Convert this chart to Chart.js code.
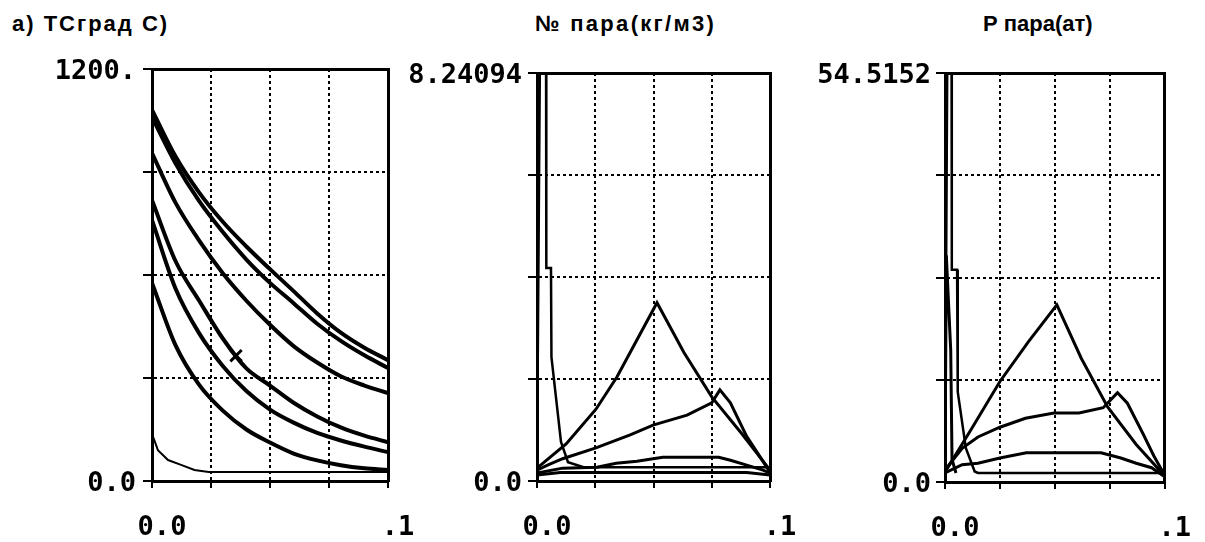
<!DOCTYPE html>
<html><head><meta charset="utf-8">
<script src="https://cdn.jsdelivr.net/npm/chart.js@4/dist/chart.umd.min.js"></script>
<style>
html,body{margin:0;padding:0;background:#fff;width:1205px;height:542px;overflow:hidden;position:relative}
canvas{position:absolute;top:0}
.ttl{position:absolute;font:bold 22px "Liberation Sans",Arial,sans-serif;color:#000;white-space:nowrap;line-height:22px}
</style></head><body>
<div class="ttl" style="left:12px;top:13px;letter-spacing:2px">а) ТСград С)</div>
<div class="ttl" style="left:535px;top:13px;letter-spacing:2.3px">№ пара(кг/м3)</div>
<div class="ttl" style="left:983px;top:13px">Р пара(ат)</div>
<canvas id="c1" width="440" height="542" style="left:0px"></canvas>
<canvas id="c2" width="420" height="542" style="left:400px"></canvas>
<canvas id="c3" width="400" height="542" style="left:805px"></canvas>
<script>
// ---------- Panel 1: temperature (°C) ----------
const tX = [0, 0.01, 0.02, 0.03, 0.04, 0.05, 0.06, 0.07, 0.08, 0.09, 0.1];
const tA = [1081, 945, 840, 755, 683, 617, 553, 488, 432, 388, 352];
const tB = [1060, 925, 815, 725, 645, 577, 518, 458, 408, 366, 329];
const tC = [955, 810, 700, 605, 525, 455, 393, 345, 305, 278, 256];
const tD = [818, 640, 525, 415, 328, 278, 228, 188, 156, 132, 113];
const tE = [760, 560, 430, 335, 262, 208, 170, 140, 118, 100, 84];
const tF = [577, 395, 280, 205, 150, 112, 80, 60, 46, 37, 32];
const gX = [0, 0.0005, 0.0025, 0.0068, 0.0123, 0.018, 0.024, 0.1];
const gY = [140, 128, 90, 61, 47, 32, 26, 26];
const markX = [0.0356];
const markY = [365];

// ---------- Panel 2: vapour density (kg/m3) ----------
const s2X = [0, 0.0012, 0.0039, 0.004, 0.006, 0.0062, 0.0103, 0.0133, 0.02, 0.1];
const s2Y = [0.3, 8.24094, 8.24094, 4.3, 4.3, 2.5, 0.79, 0.38, 0.28, 0.28];
const tr2X = [0, 0.0125, 0.0253, 0.0343, 0.0515, 0.063, 0.075, 0.088, 0.1];
const tr2Y = [0.26, 0.75, 1.45, 2.1, 3.6, 2.6, 1.7, 0.95, 0.22];
const q2X = [0, 0.005, 0.011, 0.0253, 0.04, 0.0498, 0.0644, 0.075, 0.0785, 0.083, 0.09, 0.1];
const q2Y = [0.22, 0.33, 0.45, 0.67, 0.93, 1.13, 1.33, 1.58, 1.84, 1.58, 0.9, 0.18];
const h2X = [0, 0.011, 0.0257, 0.034, 0.0429, 0.054, 0.078, 0.083, 0.09, 0.097, 0.1];
const h2Y = [0.16, 0.26, 0.28, 0.36, 0.4, 0.48, 0.48, 0.42, 0.32, 0.22, 0.16];
const l2X = [0, 0.01, 0.09, 0.1];
const l2Y = [0.12, 0.17, 0.17, 0.12];

// ---------- Panel 3: vapour pressure (at) ----------
const s3X = [0, 0.001, 0.003, 0.0031, 0.0055, 0.0058, 0.0095, 0.0135, 0.015, 0.1];
const s3Y = [1.3, 54.5152, 54.5152, 28.3, 28.3, 12, 4.5, 1.4, 1.2, 1.2];
const s3bX = [0, 0.0006, 0.0026, 0.0032, 0.005];
const s3bY = [1.2, 30.2, 17.6, 3, 1.2];
const tr3X = [0, 0.0125, 0.025, 0.038, 0.0509, 0.062, 0.074, 0.087, 0.1];
const tr3Y = [1.3, 7.3, 13.4, 18.7, 23.6, 16.5, 10.0, 5.0, 0.8];
const q3X = [0, 0.0078, 0.015, 0.025, 0.0366, 0.0496, 0.061, 0.072, 0.0785, 0.083, 0.09, 0.095, 0.1];
const q3Y = [1.6, 4.5, 6.0, 7.3, 8.5, 9.2, 9.2, 9.9, 11.9, 10.5, 6.5, 3.5, 0.9];
const h3X = [0, 0.0078, 0.015, 0.025, 0.037, 0.051, 0.071, 0.08, 0.087, 0.094, 0.1];
const h3Y = [1.2, 2.3, 2.5, 3.2, 3.9, 3.9, 3.9, 3.2, 2.5, 1.9, 0.7];

// axis tick labels
const xLabels = ['0.0', '.1'];
const yTop1 = '1200.', yTop2 = '8.24094', yTop3 = '54.5152';
const yMax1 = 1200, yMax2 = 8.24094, yMax3 = 54.5152;
const xMax = 0.1;

const pts = (xs, ys) => xs.map((x, i) => ({x: x, y: ys[i]}));
const line = (xs, ys, w) => ({data: pts(xs, ys), borderColor: '#000', borderWidth: w, pointRadius: 0, tension: 0, fill: false});
const curve = (xs, ys, w) => Object.assign(line(xs, ys, w), {cubicInterpolationMode: 'monotone'});
const tickFont = {family: '"DejaVu Sans Mono", monospace', size: 27, weight: 'bold'};

function makeChart(id, datasets, yMax, yTop, yW, pad, xH, yPad) {
  return new Chart(document.getElementById(id), {
    type: 'line',
    data: {datasets: datasets},
    options: {
      responsive: false, animation: false, devicePixelRatio: 1,
      layout: {padding: pad},
      plugins: {legend: {display: false}, tooltip: {enabled: false}},
      scales: {
        x: {
          type: 'linear', position: 'bottom', min: 0, max: xMax,
          afterFit: s => { s.height = xH; },
          ticks: {count: 5, autoSkip: false, maxRotation: 0, padding: 24, labelOffset: 10, color: '#000', font: tickFont,
            callback: (v, i, t) => i === 0 ? xLabels[0] : (i === t.length - 1 ? xLabels[1] : '')},
          grid: {color: '#000', lineWidth: 2, tickLength: 7, tickWidth: 2, tickColor: '#000'},
          border: {display: true, color: '#000', width: 3, dash: [3, 3]}
        },
        y: {
          type: 'linear', position: 'left', min: 0, max: yMax,
          afterFit: s => { s.width = yW; },
          ticks: {count: 5, autoSkip: false, padding: yPad, labelOffset: 3, color: '#000', font: tickFont,
            callback: (v, i, t) => i === 0 ? '0.0' : (i === t.length - 1 ? yTop : '')},
          grid: {color: '#000', lineWidth: 2, tickLength: 9, tickWidth: 2, tickColor: '#000'},
          border: {display: true, color: '#000', width: 3, dash: [3, 3]}
        },
        xT: {
          type: 'linear', position: 'top', min: 0, max: xMax,
          afterFit: s => { s.height = 0; },
          ticks: {display: false}, grid: {display: false},
          border: {display: true, color: '#000', width: 3}
        },
        yR: {
          type: 'linear', position: 'right', min: 0, max: yMax,
          afterFit: s => { s.width = 0; },
          ticks: {display: false}, grid: {display: false},
          border: {display: true, color: '#000', width: 3}
        }
      }
    }
  });
}

makeChart('c1', [
  curve(tX, tA, 4), curve(tX, tB, 4), curve(tX, tC, 4), curve(tX, tD, 4),
  curve(tX, tE, 4), curve(tX, tF, 4), line(gX, gY, 2),
  {data: pts(markX, markY), showLine: false, pointStyle: 'crossRot', pointRadius: 8, pointBorderWidth: 3, borderColor: '#000', backgroundColor: '#000'}
], yMax1, yTop1, 152, {left: 0, right: 52, top: 69, bottom: 0}, 61, 7);

makeChart('c2', [
  line(s2X, s2Y, 2.5), line(tr2X, tr2Y, 3), line(q2X, q2Y, 3),
  line(h2X, h2Y, 3), line(l2X, l2Y, 3)
], yMax2, yTop2, 137, {left: 0, right: 50, top: 73, bottom: 0}, 61, 6);

makeChart('c3', [
  line(s3X, s3Y, 2.5), line(s3bX, s3bY, 3), line(tr3X, tr3Y, 3),
  line(q3X, q3Y, 3), line(h3X, h3Y, 3)
], yMax3, yTop3, 140, {left: 0, right: 28, top: 73, bottom: 0}, 60, 5);
</script>
</body></html>
